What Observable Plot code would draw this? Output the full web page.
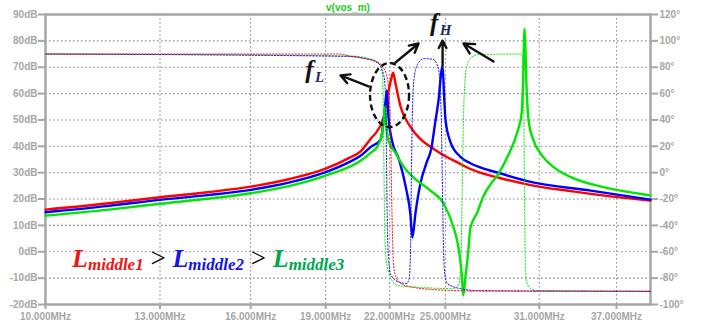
<!DOCTYPE html>
<html><head><meta charset="utf-8">
<script src="https://cdn.jsdelivr.net/npm/d3@7"></script>
<script src="https://cdn.jsdelivr.net/npm/@observablehq/plot@0.6"></script>
<style>body{margin:0;background:#fff}</style>
</head><body><div id="chart"></div>
<script>
// ---------- data ----------
const TITLE = "v(vos_m)";
const X_TICKS = [10, 13, 16, 19, 22, 25, 31, 37];           // MHz
const DB_TICKS = [-20, -10, 0, 10, 20, 30, 40, 50, 60, 70, 80, 90];
const DEG_TICKS = [-100, -80, -60, -40, -20, 0, 20, 40, 60, 80, 100, 120];

// magnitude (dB) of the three traces
const redMagF  = [10, 11.5, 13, 14.5, 16, 17.5, 19, 20.1, 20.6, 21.06, 21.4, 21.7, 21.95, 22.08, 22.18, 22.3, 22.56, 23.07, 23.6, 24.16, 24.73, 25.88, 26.47, 27.08, 28.37, 30.39, 33.33, 36, 40];
const redMagDb = [16.0, 18.3, 20.7, 22.6, 24.7, 27.6, 31.5, 35.8, 38.2, 42.8, 46.0, 50.9, 61.2, 65.5, 67.9, 63.8, 55.0, 47.5, 42.8, 39.8, 37.3, 33.3, 31.4, 30.0, 27.9, 25.3, 23.0, 21.3, 19.4];

const blueMagF  = [10, 11.5, 13, 14.5, 16, 17.5, 19, 20.1, 20.6, 21.06, 21.55, 21.7, 21.8, 21.86, 21.95, 22.12, 22.5, 22.87, 23.07, 23.18, 23.34, 23.61, 23.93, 24.2, 24.44, 24.61, 24.78, 24.84, 24.92, 25.01, 25.3, 25.88, 26.47, 27.08, 28.37, 30.39, 34.88, 40];
const blueMagDb = [15.0, 17.3, 19.7, 21.5, 23.5, 26.3, 30.2, 34.2, 36.5, 39.7, 42.5, 49.8, 57.4, 61.2, 50.5, 42.2, 34.6, 23.2, 14.5, 5.4, 14.5, 25.9, 33.5, 39.0, 49.8, 57.4, 68.8, 70.5, 60.0, 49.8, 41.5, 36.0, 33.6, 32.0, 29.7, 26.5, 23.2, 19.8];

const greenMagF  = [10, 11.5, 13, 14.5, 16, 17.5, 19, 20.6, 21.06, 21.4, 21.6, 21.72, 21.77, 21.85, 21.95, 22.3, 22.7, 23.23, 24.16, 24.9, 25.47, 25.76, 25.97, 26.04, 26.17, 26.35, 26.47, 26.9, 27.27, 27.71, 28.17, 28.82, 29.51, 29.77, 29.86, 29.97, 30.11, 30.25, 30.6, 31.1, 32.04, 33.33, 35.93, 40];
const greenMagDb = [13.7, 15.9, 18.2, 20.1, 22.2, 25.0, 28.9, 34.6, 37.5, 40.0, 44.0, 50.0, 55.0, 47.0, 42.0, 37.5, 32.5, 28.2, 23.2, 18.3, 9.2, 1.6, -9.8, -16.6, -9.8, 0.5, 9.0, 15.0, 21.0, 25.5, 29.0, 36.0, 46.0, 52.4, 62.4, 84.6, 62.4, 49.8, 42.2, 37.2, 32.1, 28.3, 24.5, 21.4];

// phase (degrees, right axis)
const redPhF   = [10, 19.66, 20.12, 20.72, 21.39, 21.65, 21.85, 21.97, 22.05, 22.1, 22.15, 22.2, 22.35, 22.56, 23.23, 24.73, 27, 40];
const redPhDeg = [90, 90, 88.2, 86.8, 84, 80.5, 74, 62, 30, -15, -50, -70, -80, -84, -87, -89, -89.8, -90];

const bluePhF   = [10, 20.12, 20.72, 21.39, 21.6, 21.75, 21.82, 21.86, 21.9, 21.95, 22.05, 22.4, 22.87, 23.0, 23.08, 23.13, 23.18, 23.26, 23.45, 23.8, 24.3, 24.6, 24.75, 24.82, 24.88, 24.95, 25.1, 25.88, 27, 40];
const bluePhDeg = [90, 88.2, 86.8, 83.5, 79, 70, 40, -10, -50, -65, -77, -82.5, -84, -81, -60, 0, 45, 70, 82, 86.5, 86, 79, 50, 0, -50, -75, -84, -88, -89.5, -90];

const greenPhF   = [10, 20.12, 21.0, 21.45, 21.62, 21.68, 21.72, 21.76, 21.82, 21.95, 22.05, 22.4, 23.6, 25.5, 25.8, 25.92, 25.98, 26.04, 26.11, 26.25, 26.5, 26.9, 29.7, 29.84, 29.93, 29.98, 30.03, 30.11, 30.4, 31, 40];
const greenPhDeg = [90, 88.5, 86.5, 83, 77, 55, 0, -45, -65, -75, -79.5, -85.6, -87, -88, -84, -60, -15, 30, 62, 80, 87, 89.5, 90, 86, 40, -30, -70, -83, -88, -89.5, -90];

// annotations (MHz, dB)
const arrowFrom = [[20.96, 62.7], [22.30, 71.8], [24.84, 70.65], [27.92, 72.2]];
const arrowTo   = [[19.66, 66.9], [23.51, 79.0], [24.84, 80.1], [26.06, 79.0]];
const ellipseBox = {f: [21.06, 23.03], db: [47.1, 71.4]};
const fLabels = [{f: 18.15, db: 65.7, sub: "L"}, {f: 24.16, db: 83.55, sub: "H"}];
const legendAt = {f: 10.64, db: -6.0};
const legendItems = [
  {main: "L", sub: "middle1", color: "#f01414"},
  {main: "L", sub: "middle2", color: "#1414e6"},
  {main: "L", sub: "middle3", color: "#00a550"}
];

// ---------- helpers ----------
const RED = "#ff0000", BLUE = "#0000ff", GREEN = "#00e600";
const GRAY = "#a6a6a6";
const phaseToDb = d => d / 2 + 30;
const pts = (fs, vs) => fs.map((f, i) => ({f, v: vs[i]}));

const magLine = (fs, vs, color) => Plot.line(pts(fs, vs), {x: "f", y: "v", stroke: color, strokeWidth: 2.4, curve: "monotone-x"});
const phLine = (fs, vs, color, off) => Plot.line(pts(fs, vs), {x: "f", y: d => phaseToDb(d.v), stroke: color, strokeWidth: 1, strokeDasharray: "1.3,1.9", strokeDashoffset: off, curve: "monotone-x"});

function ellipseMark(index, {x, y}) {
  const x0 = x(ellipseBox.f[0]), x1 = x(ellipseBox.f[1]);
  const y0 = y(ellipseBox.db[0]), y1 = y(ellipseBox.db[1]);
  return d3.create("svg:ellipse")
    .attr("cx", (x0 + x1) / 2).attr("cy", (y0 + y1) / 2)
    .attr("rx", Math.abs(x1 - x0) / 2).attr("ry", Math.abs(y1 - y0) / 2)
    .attr("fill", "none").attr("stroke", "#111").attr("stroke-width", 2.4)
    .attr("stroke-dasharray", "6,3.5").node();
}

function richText(index, {x, y}) {
  const g = d3.create("svg:g")
    .attr("font-family", "'Liberation Serif', 'DejaVu Serif', serif")
    .attr("text-anchor", "start");
  for (const l of fLabels) {
    const t = g.append("text").attr("x", x(l.f)).attr("y", y(l.db));
    t.append("tspan").attr("font-size", 25).attr("font-style", "italic").attr("font-weight", "bold").attr("fill", "#111").text("f");
    t.append("tspan").attr("font-size", 15).attr("font-style", "italic").attr("font-weight", "bold").attr("fill", "#1c2c66").attr("dx", 1.5).attr("dy", 4).text(l.sub);
  }
  const t = g.append("text").attr("x", x(legendAt.f)).attr("y", y(legendAt.db));
  legendItems.forEach((it, i) => {
    if (i > 0) t.append("tspan").attr("font-size", 27).attr("font-weight", "normal").attr("fill", "#000").attr("dy", -3).text("\u00a0>\u00a0");
    t.append("tspan").attr("font-size", 26).attr("font-style", "italic").attr("font-weight", "bold").attr("fill", it.color).text(it.main);
    t.append("tspan").attr("font-size", 17).attr("font-style", "italic").attr("font-weight", "bold").attr("fill", it.color).attr("dy", 3).text(it.sub);
  });
  return g.node();
}

const chart = Plot.plot({
  width: 706, height: 326,
  marginLeft: 45, marginRight: 56, marginTop: 14, marginBottom: 22,
  style: {fontFamily: "'Liberation Sans', Arial, sans-serif", fontSize: "10px", fontWeight: "bold", background: "#fff"},
  x: {type: "log", domain: [10, 40]},
  y: {domain: [-20, 90]},
  marks: [
    Plot.gridY({ticks: DB_TICKS.slice(1, -1), stroke: "#8a8a8a", strokeOpacity: 1, strokeWidth: 1.1, strokeDasharray: "1.6,2.4"}),
    Plot.gridX({ticks: X_TICKS.slice(1), stroke: "#8a8a8a", strokeOpacity: 1, strokeWidth: 1.1, strokeDasharray: "1.6,2.4"}),
    Plot.axisY({anchor: "left", ticks: DB_TICKS, tickFormat: d => d + "dB", tickSize: 7, tickPadding: 1, color: GRAY, strokeWidth: 2, label: null}),
    Plot.axisY({anchor: "right", ticks: DEG_TICKS.map(phaseToDb), tickFormat: v => Math.round((v - 30) * 2) + "°", tickSize: 7, tickPadding: 2, color: GRAY, strokeWidth: 2, label: null}),
    Plot.axisX({ticks: X_TICKS, tickFormat: d => d.toFixed(3) + "MHz", tickSize: 5, tickPadding: 3, color: GRAY, strokeWidth: 2, label: null}),
    Plot.frame({stroke: GRAY, strokeWidth: 2.5}),
    Plot.text([TITLE], {text: d => d, frameAnchor: "top", dy: -4, lineAnchor: "bottom", fill: "#22cc22", fontSize: 10}),
    magLine(redMagF, redMagDb, RED),
    magLine(blueMagF, blueMagDb, BLUE),
    magLine(greenMagF, greenMagDb, GREEN),
    phLine(greenPhF, greenPhDeg, GREEN, 1),
    phLine(bluePhF, bluePhDeg, BLUE, 1.6),
    phLine(redPhF, redPhDeg, RED, 0),
    ellipseMark,
    Plot.arrow(arrowFrom.map((a, i) => ({a, b: arrowTo[i]})), {
      x1: d => d.a[0], y1: d => d.a[1], x2: d => d.b[0], y2: d => d.b[1],
      stroke: "#111", strokeWidth: 2.4, headLength: 10, headAngle: 55
    }),
    richText
  ]
});
document.getElementById("chart").append(chart);
</script></body></html>
